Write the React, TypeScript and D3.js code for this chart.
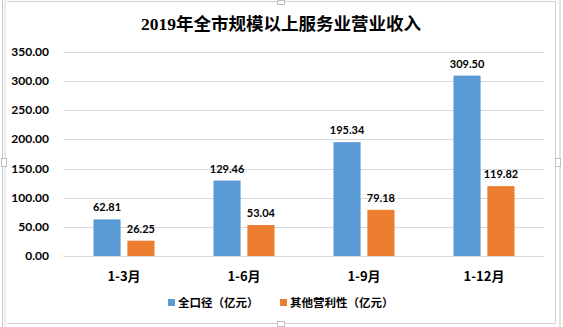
import React from "react";
import * as d3 from "d3";

const categories = ["1-3月", "1-6月", "1-9月", "1-12月"];
const seriesNames = ["全口径（亿元）", "其他营利性（亿元）"];
const totalValues = [62.81, 129.46, 195.34, 309.5];
const otherValues = [26.25, 53.04, 79.18, 119.82];
const yTicks = [0, 50, 100, 150, 200, 250, 300, 350];
const colors = ["#5B9BD5", "#ED7D31"];

const W = 563;
const H = 327;
const plotLeft = 64;
const plotRight = 544;
const plotTop = 52;
const plotBottom = 256;

const numFont = "Lato, 'Noto Sans CJK SC', sans-serif";
const cjkFont = "'Noto Sans CJK SC', Lato, sans-serif";

export default function App() {
  const y = d3.scaleLinear().domain([0, 350]).range([plotBottom, plotTop]);
  const x0 = d3.scaleBand<string>().domain(categories).range([plotLeft, plotRight]).paddingInner(0).paddingOuter(0);
  const bw = x0.bandwidth();
  const groupW = 61;
  const x1 = d3
    .scaleBand<string>()
    .domain(seriesNames)
    .range([(bw - groupW) / 2, (bw + groupW) / 2])
    .paddingInner(0.2)
    .paddingOuter(0);
  const series = [totalValues, otherValues];

  const legendItems = [
    { x: 168, tx: 178 },
    { x: 280, tx: 290 },
  ];

  return (
    <svg
      width={W}
      height={H}
      style={{ position: "absolute", left: 0, top: 0, background: "#fff" }}
    >
      {/* frame */}
      <line x1={2.5} y1={0} x2={2.5} y2={H} stroke="#c8c8c8" />
      <line x1={5} y1={0} x2={5} y2={H} stroke="#d6d6d6" />
      <line x1={7} y1={1.5} x2={555.5} y2={1.5} stroke="#d0d0d0" />
      <line x1={555.5} y1={1.5} x2={555.5} y2={323.5} stroke="#d0d0d0" />
      <line x1={7} y1={323.5} x2={555.5} y2={323.5} stroke="#d0d0d0" />
      <line x1={560} y1={0} x2={560} y2={H} stroke="#c8c8c8" />
      <rect x={277.5} y={0.5} width={7} height={4} fill="#fff" stroke="#c0c0c0" />
      <rect x={277.5} y={321.5} width={7} height={5} fill="#fff" stroke="#c0c0c0" />
      <rect x={1.5} y={158.5} width={5} height={8} fill="#fff" stroke="#c0c0c0" />
      <rect x={555.5} y={158.5} width={5} height={8} fill="#fff" stroke="#c0c0c0" />

      {/* title */}
      <text
        x={281}
        y={29.5}
        textAnchor="middle"
        fontFamily="'Liberation Serif', 'Noto Sans CJK SC', serif"
        fontSize={17.5}
        fontWeight={600}
        fill="#000"
      >
        2019年全市规模以上服务业营业收入
      </text>

      {/* grid */}
      {yTicks.map((t) => (
        <g key={t}>
          <line
            x1={plotLeft}
            x2={plotRight}
            y1={Math.round(y(t)) + 0.5}
            y2={Math.round(y(t)) + 0.5}
            stroke="#d9d9d9"
          />
          <text
            x={49}
            y={y(t) + 4}
            textAnchor="end"
            fontFamily={numFont}
            fontSize={12}
            fontWeight={700}
            fill="#000"
          >
            {d3.format(".2f")(t)}
          </text>
        </g>
      ))}

      {/* bars */}
      {categories.map((c, i) => (
        <g key={c} transform={`translate(${x0(c)},0)`}>
          {seriesNames.map((s, j) => {
            const v = series[j][i];
            const bx = x1(s) as number;
            return (
              <g key={s}>
                <rect
                  x={bx}
                  y={y(v)}
                  width={x1.bandwidth()}
                  height={plotBottom - y(v)}
                  fill={colors[j]}
                />
                <text
                  x={bx + x1.bandwidth() / 2}
                  y={y(v) - 8}
                  textAnchor="middle"
                  fontFamily={numFont}
                  fontSize={11}
                  fontWeight={700}
                  fill="#000"
                >
                  {d3.format(".2f")(v)}
                </text>
              </g>
            );
          })}
          <text
            x={bw / 2}
            y={281}
            textAnchor="middle"
            fontFamily={cjkFont}
            fontSize={13}
            fontWeight={700}
            fill="#000"
          >
            {c}
          </text>
        </g>
      ))}

      {/* legend */}
      {seriesNames.map((s, j) => (
        <g key={s}>
          <rect x={legendItems[j].x} y={299} width={7} height={7} fill={colors[j]} />
          <text
            x={legendItems[j].tx}
            y={307}
            fontFamily={cjkFont}
            fontSize={11.5}
            fontWeight={700}
            fill="#000"
          >
            {s}
          </text>
        </g>
      ))}
    </svg>
  );
}
